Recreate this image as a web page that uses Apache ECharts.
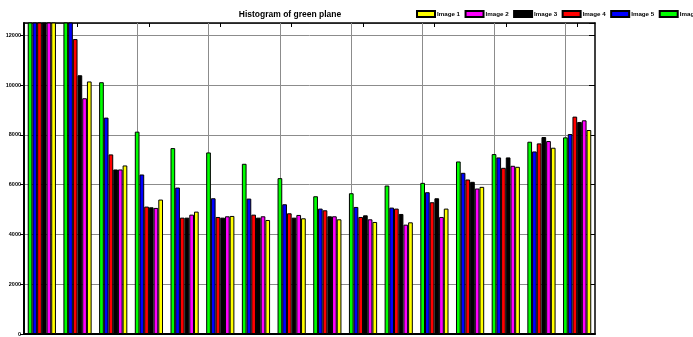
<!DOCTYPE html>
<html>
<head>
<meta charset="utf-8">
<script src="https://cdn.jsdelivr.net/npm/echarts@6/dist/echarts.min.js"></script>
<style>
html,body{margin:0;padding:0;background:#fff;}
#chart{width:693px;height:337px;}
</style>
</head>
<body>
<div id="chart"></div>
<script>
// Histogram bins (16 bins of 16 levels each)
var categories = ["0-15","16-31","32-47","48-63","64-79","80-95","96-111","112-127","128-143","144-159","160-175","176-191","192-207","208-223","224-239","240-255"];
// series values (first bin and some of the second exceed the plotted range)
var image6 = [22000, 13800, 10120, 8133, 7472, 7298, 6841, 6264, 5537, 5658, 5968, 6075, 6935, 7231, 7728, 7903];
var image5 = [20000, 12900, 8697, 6411, 5887, 5456, 5443, 5215, 5040, 5107, 5081, 5699, 6478, 7097, 7338, 8037];
var image4 = [19000, 11855, 7218, 5121, 4677, 4704, 4798, 4852, 4973, 4704, 5040, 5296, 6210, 6680, 7661, 8737];
var image3 = [18000, 10400, 6613, 5093, 4677, 4677, 4677, 4677, 4731, 4771, 4825, 5456, 6116, 7097, 7917, 8522];
var image2 = [17000, 9476, 6613, 5067, 4798, 4731, 4731, 4785, 4731, 4610, 4395, 4704, 5847, 6761, 7755, 8589];
var image1 = [16000, 10150, 6774, 5403, 4919, 4745, 4583, 4651, 4610, 4503, 4489, 5040, 5914, 6720, 7487, 8199];
var legendNames = ["Image 1","Image 2","Image 3","Image 4","Image 5","Image 6"];
// vertical grid lines sit at the centre of every second bin
var vGridBins = [1,3,5,7,9,11,13,15];

var FONT = 'Liberation Sans, Arial, sans-serif';
var chart = echarts.init(document.getElementById('chart'), null, {renderer:'canvas'});

function barSeries(name, data, color, extra) {
  var s = {
    name: name,
    type: 'bar',
    xAxisIndex: 0,
    yAxisIndex: 0,
    data: data,
    barGap: '0%',
    barCategoryGap: '21%',
    clip: true,
    itemStyle: {color: color, borderColor: '#000', borderWidth: 1},
    emphasis: {disabled: true}
  };
  if (extra) for (var k in extra) s[k] = extra[k];
  return s;
}

var option = {
  animation: false,
  backgroundColor: '#fff',
  title: {
    text: 'Histogram of green plane',
    left: 285,
    top: 5,
    textAlign: 'center',
    textStyle: {fontFamily: FONT, fontSize: 8.5, fontWeight: 'bold', color: '#000'}
  },
  legend: {
    data: legendNames,
    left: 411,
    top: 5,
    width: 400,
    itemWidth: 18,
    itemHeight: 6,
    itemGap: 4.5,
    icon: 'rect',
    textStyle: {fontFamily: FONT, fontSize: 6.2, fontWeight: 'bold', color: '#000', padding: [0, 0, 0, -3]}
  },
  grid: {left: 24, right: 98, top: 23, bottom: 3, containLabel: false},
  xAxis: [{
    type: 'category',
    data: categories,
    position: 'bottom',
    boundaryGap: true,
    axisLine: {show: true, lineStyle: {color: '#000', width: 2}},
    axisTick: {show: false},
    axisLabel: {show: false},
    splitLine: {show: false}
  }, {
    type: 'category',
    data: categories,
    position: 'top',
    boundaryGap: true,
    axisLine: {show: true, onZero: false, lineStyle: {color: '#000', width: 1.5}},
    axisTick: {show: true, inside: true, length: 4, alignWithLabel: true,
      interval: function (i) { return i % 2 === 1; },
      lineStyle: {color: '#000', width: 1}},
    axisLabel: {show: false},
    splitLine: {show: false}
  }],
  yAxis: [{
    type: 'value',
    min: 0,
    max: 12500,
    interval: 2000,
    position: 'left',
    axisLine: {show: true, lineStyle: {color: '#000', width: 2}},
    axisTick: {show: true, length: 4, lineStyle: {color: '#000'}},
    axisLabel: {show: true, showMaxLabel: false, margin: 3, fontFamily: FONT, fontSize: 5.5, fontWeight: 'bold', color: '#000',
      formatter: function (v) { return String(v); }},
    splitLine: {show: true, lineStyle: {color: '#8c8c8c', width: 1}}
  }, {
    type: 'value',
    min: 0,
    max: 12500,
    interval: 2000,
    position: 'right',
    axisLine: {show: true, lineStyle: {color: '#000', width: 1.5}},
    axisTick: {show: true, inside: true, length: 6, lineStyle: {color: '#000'}},
    axisLabel: {show: false},
    splitLine: {show: false}
  }],
  series: [
    barSeries('Image 6', image6, '#00ff00', {
      markLine: {
        silent: true,
        z: 1,
        symbol: ['none', 'none'],
        label: {show: false},
        lineStyle: {color: '#8c8c8c', type: 'solid', width: 1},
        emphasis: {disabled: true},
        data: vGridBins.map(function (i) { return {xAxis: categories[i]}; })
      }
    }),
    barSeries('Image 5', image5, '#0000ff'),
    barSeries('Image 4', image4, '#ff0000'),
    barSeries('Image 3', image3, '#000000'),
    barSeries('Image 2', image2, '#ff00ff'),
    barSeries('Image 1', image1, '#ffff00')
  ]
};
chart.setOption(option);
</script>
</body>
</html>
